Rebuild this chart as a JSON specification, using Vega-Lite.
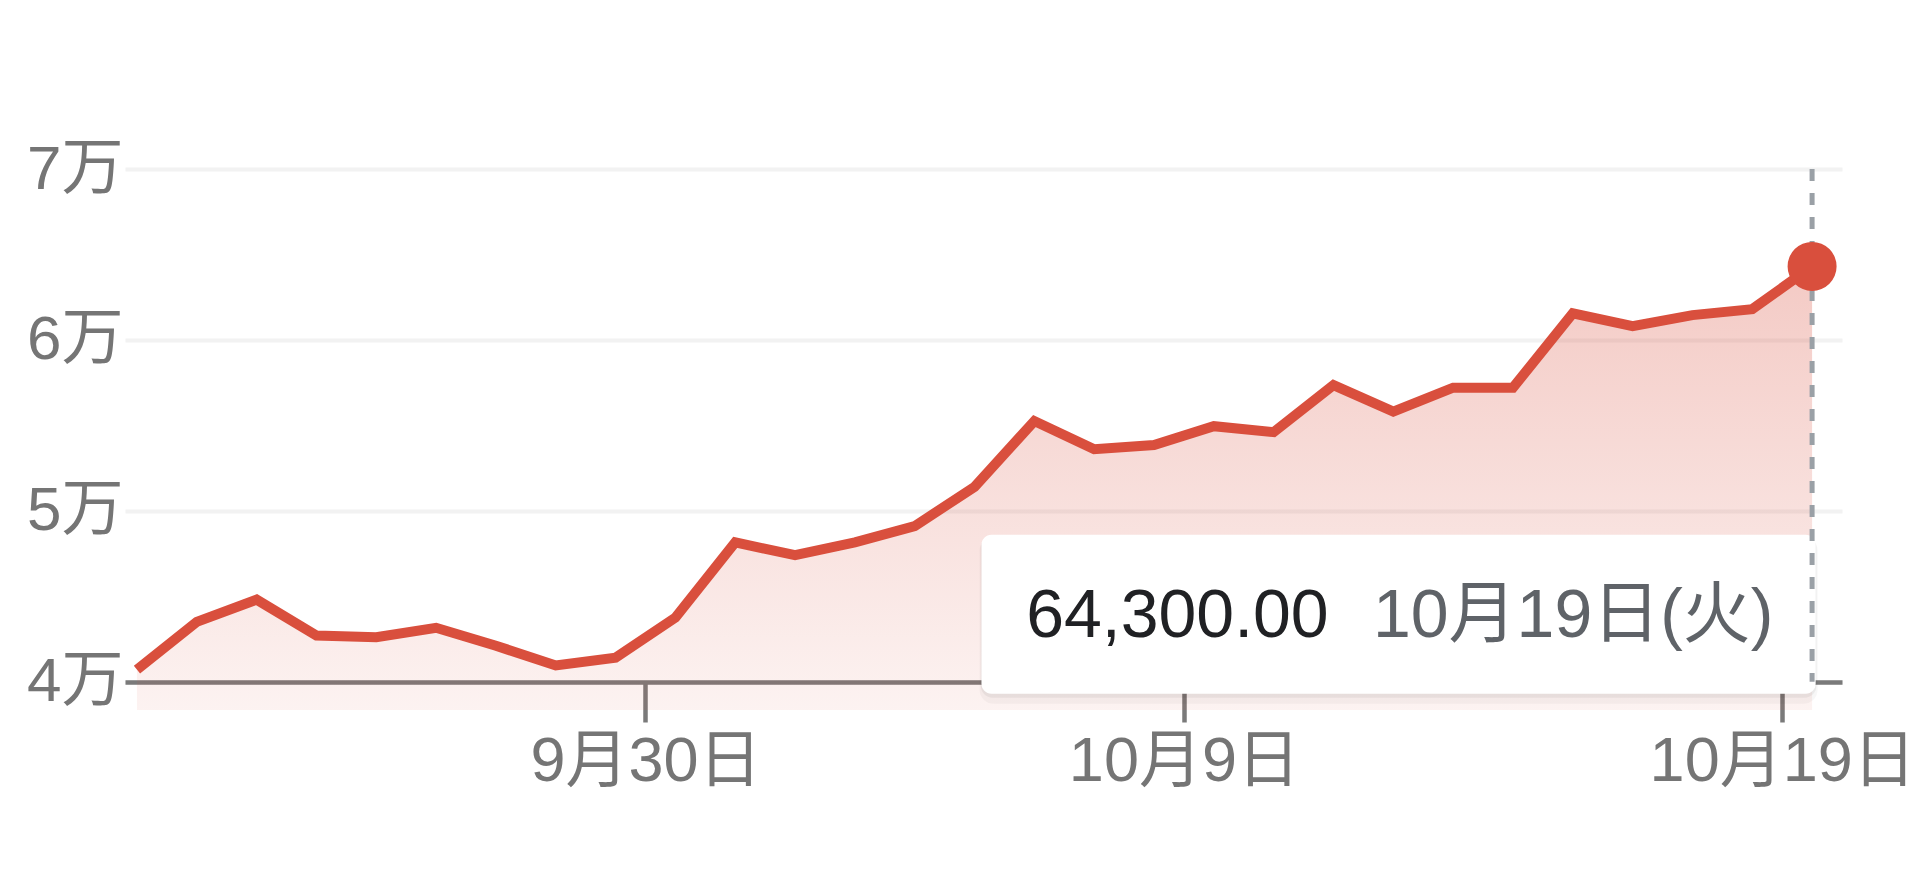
{
  "$schema": "https://vega.github.io/schema/vega-lite/v6.json",
  "description": "Price over the last 4 weeks, 9/21 - 10/19",
  "autosize": {"type": "none"},
  "padding": {"left": 125, "top": 169, "right": 78, "bottom": 163},
  "width": 1717,
  "height": 541,
  "background": "white",
  "data": {
    "values": [
      {"date": "2021-09-21T12:00", "price": 40700},
      {"date": "2021-09-22T12:00", "price": 43500},
      {"date": "2021-09-23T12:00", "price": 44800},
      {"date": "2021-09-24T12:00", "price": 42700},
      {"date": "2021-09-25T12:00", "price": 42600},
      {"date": "2021-09-26T12:00", "price": 43150},
      {"date": "2021-09-27T12:00", "price": 42100},
      {"date": "2021-09-28T12:00", "price": 40950},
      {"date": "2021-09-29T12:00", "price": 41400},
      {"date": "2021-09-30T12:00", "price": 43750},
      {"date": "2021-10-01T12:00", "price": 48150},
      {"date": "2021-10-02T12:00", "price": 47400},
      {"date": "2021-10-03T12:00", "price": 48150},
      {"date": "2021-10-04T12:00", "price": 49100},
      {"date": "2021-10-05T12:00", "price": 51400},
      {"date": "2021-10-06T12:00", "price": 55250},
      {"date": "2021-10-07T12:00", "price": 53600},
      {"date": "2021-10-08T12:00", "price": 53850},
      {"date": "2021-10-09T12:00", "price": 54950},
      {"date": "2021-10-10T12:00", "price": 54600},
      {"date": "2021-10-11T12:00", "price": 57350},
      {"date": "2021-10-12T12:00", "price": 55800},
      {"date": "2021-10-13T12:00", "price": 57200},
      {"date": "2021-10-14T12:00", "price": 57200},
      {"date": "2021-10-15T12:00", "price": 61550},
      {"date": "2021-10-16T12:00", "price": 60800},
      {"date": "2021-10-17T12:00", "price": 61450},
      {"date": "2021-10-18T12:00", "price": 61800},
      {"date": "2021-10-19T12:00", "price": 64300}
    ],
    "format": {"parse": {"date": "date"}}
  },
  "encoding": {
    "x": {
      "field": "date",
      "type": "temporal",
      "scale": {
        "domain": [
          {"year": 2021, "month": 9, "date": 21, "hours": 7, "minutes": 12},
          {"year": 2021, "month": 10, "date": 20}
        ]
      },
      "axis": {
        "title": null,
        "values": [
          {"year": 2021, "month": 9, "date": 30},
          {"year": 2021, "month": 10, "date": 9},
          {"year": 2021, "month": 10, "date": 19}
        ],
        "format": "%-m月%-d日",
        "offset": -28,
        "grid": false,
        "domainColor": "#7a7a7a",
        "domainWidth": 4.5,
        "tickColor": "#7a7a7a",
        "tickWidth": 4.5,
        "tickSize": 40,
        "labelFontSize": 63,
        "labelColor": "#757575",
        "labelPadding": 8,
        "labelLimit": 0,
        "labelFlush": false,
        "labelOverlap": false,
        "labelBound": false
      }
    },
    "y": {
      "field": "price",
      "type": "quantitative",
      "scale": {"domain": [38340, 70000], "nice": false, "zero": false},
      "axis": {
        "title": null,
        "values": [40000, 50000, 60000, 70000],
        "labelExpr": "datum.value / 10000 + '万'",
        "domain": false,
        "ticks": false,
        "gridColor": "#f2f2f2",
        "gridWidth": 4,
        "labelFontSize": 62,
        "labelColor": "#757575",
        "labelPadding": 2,
        "labelLimit": 0,
        "labelBaseline": "middle"
      }
    }
  },
  "layer": [
    {
      "mark": {
        "type": "area",
        "color": {
          "gradient": "linear",
          "x1": 1, "y1": 1, "x2": 1, "y2": 0,
          "stops": [
            {"offset": 0, "color": "rgba(217,79,61,0.07)"},
            {"offset": 1, "color": "rgba(217,79,61,0.30)"}
          ]
        }
      },
      "encoding": {"y2": {"datum": 38340}}
    },
    {
      "mark": {"type": "line", "color": "#d94f3d", "strokeWidth": 10}
    },
    {
      "transform": [
        {"filter": {"field": "date", "timeUnit": "monthdate", "equal": {"month": 10, "date": 19}}},
        {"calculate": "timeFormat(datum.date, '%-m月%-d日') + '(' + ['日','月','火','水','木','金','土'][day(datum.date)] + ')'", "as": "label"}
      ],
      "layer": [
        {
          "mark": {"type": "rect", "color": "black", "opacity": 0.03, "cornerRadius": 14},
          "encoding": {
            "x": {"datum": {"year": 2021, "month": 10, "date": 5, "hours": 14, "minutes": 0}, "type": "temporal"},
            "x2": {"datum": {"year": 2021, "month": 10, "date": 19, "hours": 14, "minutes": 14}},
            "y": {"datum": 48500},
            "y2": {"datum": 38700}
          }
        },
        {
          "mark": {"type": "rect", "color": "black", "opacity": 0.05, "cornerRadius": 12},
          "encoding": {
            "x": {"datum": {"year": 2021, "month": 10, "date": 5, "hours": 14, "minutes": 30}, "type": "temporal"},
            "x2": {"datum": {"year": 2021, "month": 10, "date": 19, "hours": 13, "minutes": 45}},
            "y": {"datum": 48530},
            "y2": {"datum": 39050}
          }
        },
        {
          "mark": {"type": "rect", "color": "white", "cornerRadius": 10},
          "encoding": {
            "x": {"datum": {"year": 2021, "month": 10, "date": 5, "hours": 14, "minutes": 47}, "type": "temporal"},
            "x2": {"datum": {"year": 2021, "month": 10, "date": 19, "hours": 13, "minutes": 26}},
            "y": {"datum": 48590},
            "y2": {"datum": 39290}
          }
        },
        {
          "mark": {"type": "rule", "color": "#9aa0a6", "strokeWidth": 5, "strokeDash": [12, 12]},
          "encoding": {
            "y": {"datum": 70000},
            "y2": {"datum": 40000}
          }
        },
        {
          "mark": {"type": "point", "filled": true, "color": "#d94f3d", "opacity": 1, "size": 2400}
        },
        {
          "mark": {
            "type": "text",
            "align": "left",
            "baseline": "alphabetic",
            "fontSize": 68,
            "color": "#202124",
            "font": "Liberation Sans, Noto Sans CJK JP, sans-serif"
          },
          "encoding": {
            "x": {"datum": {"year": 2021, "month": 10, "date": 6, "hours": 8, "minutes": 43}, "type": "temporal"},
            "y": {"datum": 42620},
            "text": {"field": "price", "type": "quantitative", "format": ",.2f"}
          }
        },
        {
          "mark": {
            "type": "text",
            "align": "left",
            "baseline": "alphabetic",
            "fontSize": 68,
            "color": "#5f6368",
            "font": "Liberation Sans, Noto Sans CJK JP, sans-serif"
          },
          "encoding": {
            "x": {"datum": {"year": 2021, "month": 10, "date": 12, "hours": 3, "minutes": 50}, "type": "temporal"},
            "y": {"datum": 42620},
            "text": {"field": "label", "type": "nominal"}
          }
        }
      ]
    }
  ],
  "config": {
    "view": {"stroke": null},
    "font": "Liberation Sans, Noto Sans CJK JP, sans-serif",
    "axis": {"labelFont": "Liberation Sans, Noto Sans CJK JP, sans-serif"}
  }
}
